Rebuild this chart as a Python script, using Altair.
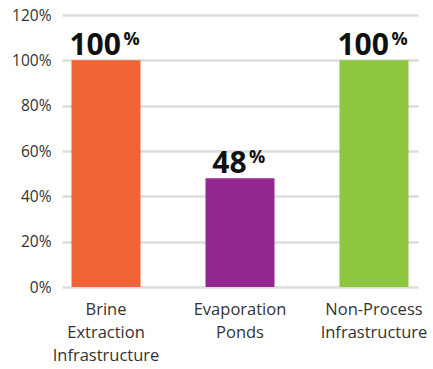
import altair as alt
import pandas as pd

categories = ["Brine\nExtraction\nInfrastructure", "Evaporation\nPonds", "Non-Process\nInfrastructure"]
values = [100, 48, 100]
colors = ["#EF6334", "#93278F", "#8DC63F"]
y_ticks = [0, 20, 40, 60, 80, 100, 120]

df = pd.DataFrame({"cat": categories, "value": values, "color": colors})

FONT = "Open Sans"
band_scale = alt.Scale(paddingInner=0.485, paddingOuter=0.071)

x = alt.X(
    "cat:N",
    sort=None,
    title=None,
    scale=band_scale,
    axis=alt.Axis(
        labelAngle=0,
        labelExpr="split(datum.label, '\\n')",
        labelFontSize=16.5,
        labelColor="#333333",
        labelFont=FONT,
        labelLineHeight=23,
        labelPadding=14,
        labelBaseline="top",
        domain=False,
        ticks=False,
        grid=False,
    ),
)

y = alt.Y(
    "value:Q",
    title=None,
    scale=alt.Scale(domain=[0, 120], nice=False),
    axis=alt.Axis(
        values=y_ticks,
        labelExpr="datum.value + '%'",
        labelFontSize=15.5,
        labelColor="#333333",
        labelFont=FONT,
        labelPadding=11,
        domain=False,
        ticks=False,
        grid=True,
        gridColor="#dcdcdc",
        gridWidth=2.5,
    ),
)

base = alt.Chart(df)

bars = base.mark_bar(size=69).encode(
    x=x,
    y=y,
    color=alt.Color("color:N", scale=None),
)

off_scale = alt.Scale(domain=[-200, 200], range=[-200, 200])

labels = base.transform_calculate(
    txt="toString(datum.value)",
    noff="34.5 + 8.3 * length(toString(datum.value)) - 10",
    poff="34.5 + 8.3 * length(toString(datum.value)) - 10 + 2.5",
)

xt = alt.X("cat:N", sort=None, scale=band_scale, axis=None)

nums = labels.mark_text(
    align="right", baseline="alphabetic", fontSize=30, fontWeight="bold",
    font=FONT, color="#111111", dy=-5,
).encode(
    x=xt,
    y="value:Q",
    xOffset=alt.XOffset("noff:Q", scale=off_scale),
    text="txt:N",
)

pcts = labels.mark_text(
    align="left", baseline="alphabetic", fontSize=18, fontWeight="bold",
    font=FONT, color="#111111", dy=-15,
).encode(
    x=xt,
    y="value:Q",
    xOffset=alt.XOffset("poff:Q", scale=off_scale),
    text=alt.value("%"),
)

texts = alt.layer(nums, pcts)

chart = alt.layer(bars, texts).resolve_scale(x="independent").properties(
    width=356,
    height=272,
    autosize=alt.AutoSizeParams(type="none"),
    padding={"left": 62, "top": 15, "right": 15, "bottom": 82},
).configure_view(stroke=None)

chart.save("out.html", embed_options={"renderer": "svg", "actions": False})
